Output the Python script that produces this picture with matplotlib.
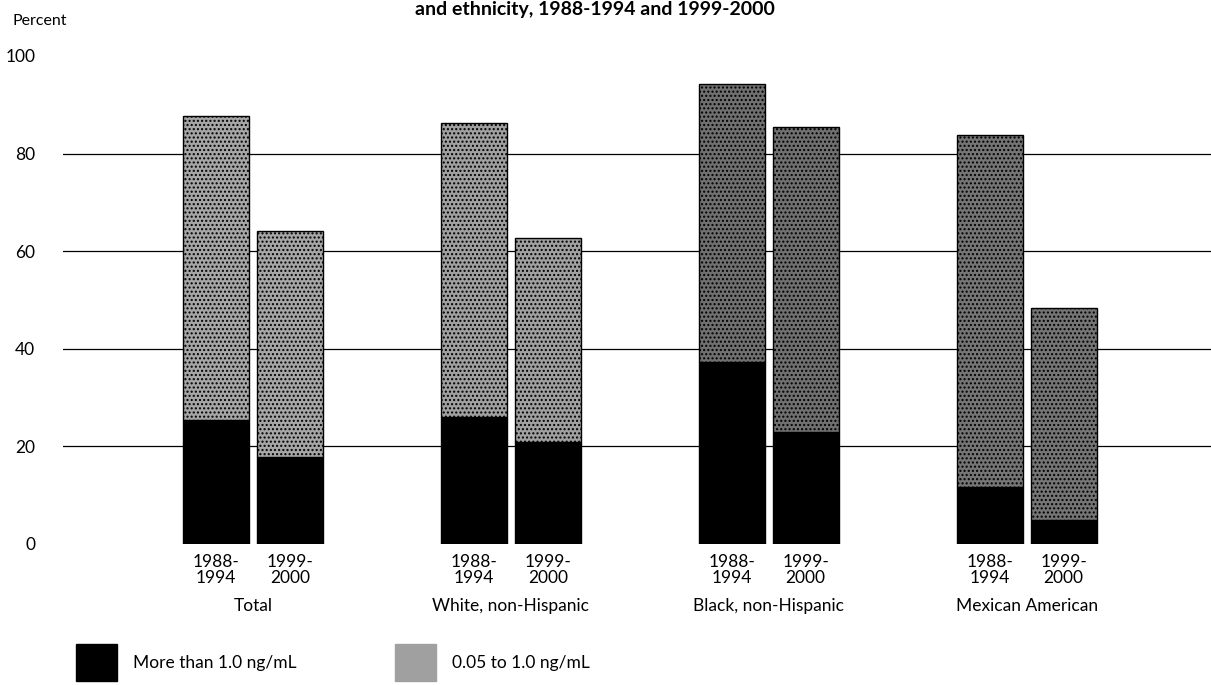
import numpy as np
import matplotlib.pyplot as plt
from matplotlib.patches import Patch

groups = ["Total", "White, non-Hispanic", "Black, non-Hispanic", "Mexican American"]
periods = ["1988-\n1994", "1999-\n2000"]
# percent with cotinine > 1.0 ng/mL
high_1988 = [25.5, 26.1, 37.3, 11.6]
high_1999 = [17.8, 21.0, 23.0, 5.0]
# percent with any detectable cotinine (>= 0.05 ng/mL)
total_1988 = [87.8, 86.2, 94.2, 83.8]
total_1999 = [64.2, 62.8, 85.4, 48.4]

plt.rcParams['font.family'] = ['Lato', 'DejaVu Sans']

fig = plt.figure(figsize=(12.11, 6.85), dpi=100)
ax = fig.add_axes([63 / 1211, 1 - 544 / 685, 1 - 63 / 1211, (544 - 56) / 685])

x = np.arange(len(groups))
w = 0.256
off = 0.143
grey = ["#a6a6a6", "#a0a0a0", "#707070", "#757575"]

for i in range(len(groups)):
    for j, (hi, tot) in enumerate([(high_1988, total_1988), (high_1999, total_1999)]):
        xp = x[i] + (-off if j == 0 else off)
        ax.bar(xp, hi[i], w, color="black", edgecolor="black", linewidth=1, zorder=3)
        ax.bar(xp, tot[i] - hi[i], w, bottom=hi[i], color=grey[i],
               edgecolor="black", linewidth=1, hatch="....", zorder=3)
        ax.text(xp, -2, periods[j], ha="center", va="top", fontsize=12.5,
                linespacing=1.05)
    ax.text(x[i], -11, groups[i], ha="center", va="top", fontsize=12.5)

for v in [20, 40, 60, 80]:
    ax.axhline(v, color="black", linewidth=0.9, zorder=1)

ax.set_ylim(0, 100)
ax.set_xlim(-0.736, 3.714)
ax.set_yticks([0, 20, 40, 60, 80, 100])
ax.set_yticklabels(["0", "20", "40", "60", "80", "100"], fontsize=12.5)
ax.tick_params(axis="y", length=0, pad=20)
ax.set_xticks([])
for s in ax.spines.values():
    s.set_visible(False)

fig.text(12 / 1211, 1 - 21 / 685, "Percent", fontsize=11.5, va="center", ha="left")
fig.text(595 / 1211, 1 - 10 / 685, "and ethnicity, 1988-1994 and 1999-2000",
         fontsize=14, fontweight="bold", ha="center", va="center")

# legend
handles = [Patch(facecolor="black", edgecolor="black"),
           Patch(facecolor="#a0a0a0", edgecolor="#a0a0a0", hatch="....")]
fig.legend(handles, ["More than 1.0 ng/mL", "0.05 to 1.0 ng/mL"], ncol=2,
           loc="lower left", bbox_to_anchor=(60 / 1211, -12 / 685), frameon=False,
           fontsize=12.5, handlelength=2.4, handleheight=2.9, columnspacing=5.65,
           handletextpad=0.9)

fig.savefig("out.png", dpi=100)
